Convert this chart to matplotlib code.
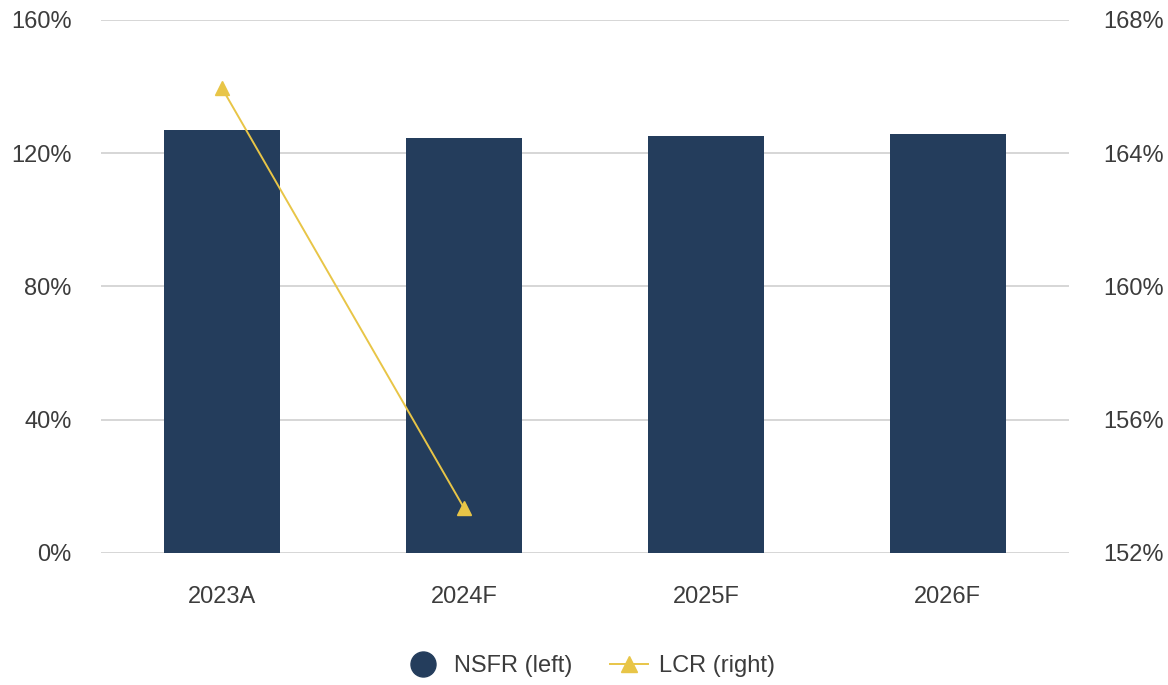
import matplotlib.pyplot as plt
from matplotlib.lines import Line2D
from matplotlib.ticker import FuncFormatter

years = ["2023A", "2024F", "2025F", "2026F"]
nsfr = [126.9, 124.5, 125.1, 125.6]
lcr_years = ["2023A", "2024F"]
lcr = [165.95, 153.35]

bar_color = "#243d5c"
line_color = "#e8c547"
text_color = "#3c3c3c"

plt.rcParams['font.family'] = ['Liberation Sans', 'DejaVu Sans']
fig = plt.figure(figsize=(11.68, 6.85), dpi=100)
ax = fig.add_axes([0.0865, 0.193, 0.8285, 0.778])
ax2 = ax.twinx()

x = list(range(len(years)))
ax.bar(x, nsfr, width=0.48, color=bar_color, zorder=2)
ax.set_xlim(-0.5, len(years) - 0.5)
ax.set_ylim(0, 160)
ax.set_yticks([0, 40, 80, 120, 160])
ax.yaxis.set_major_formatter(FuncFormatter(lambda v, p: f"{v:.0f}%"))
ax.grid(axis='y', color='#d0d0d0', linewidth=1.2, zorder=0)
ax.set_axisbelow(True)
ax.set_xticks(x)
ax.set_xticklabels(years)

lx = [years.index(y) for y in lcr_years]
ax2.plot(lx, lcr, color=line_color, marker='^', markersize=10, linewidth=1.4, zorder=3)
ax2.set_ylim(152, 168)
ax2.set_yticks([152, 156, 160, 164, 168])
ax2.yaxis.set_major_formatter(FuncFormatter(lambda v, p: f"{v:.0f}%"))

for a in (ax, ax2):
    for s in a.spines.values():
        s.set_visible(False)
    a.tick_params(length=0, labelsize=17, colors=text_color)
ax.tick_params(axis='y', pad=21)
ax.tick_params(axis='x', pad=24)
ax2.tick_params(axis='y', pad=25)

handles = [
    Line2D([], [], marker='o', color='none', markerfacecolor=bar_color,
           markeredgecolor=bar_color, markersize=18),
    Line2D([], [], marker='^', color=line_color, markersize=11, linewidth=1.4),
]
fig.legend(handles, ["NSFR (left)", "LCR (right)"], loc='center',
           bbox_to_anchor=(0.505, 0.028), ncol=2, frameon=False,
           fontsize=17, labelcolor=text_color, handlelength=1.6,
           columnspacing=1.6, handletextpad=0.5)

fig.savefig("out.png", dpi=100)
